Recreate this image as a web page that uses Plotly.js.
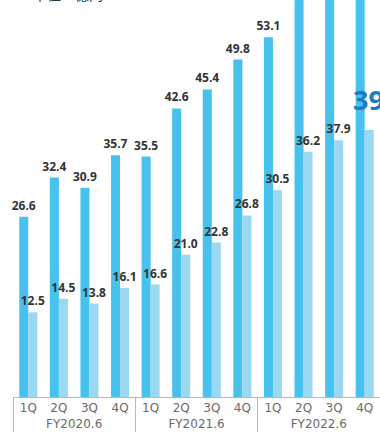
<!DOCTYPE html>
<html>
<head>
<meta charset="utf-8">
<script src="https://cdn.plot.ly/plotly-3.0.1.min.js"></script>
<style>html,body{margin:0;padding:0;background:#fff;}#chart{width:380px;height:432px;}</style>
</head>
<body>
<div id="chart"></div>
<script>
const fiscalYears = ['FY2020.6', 'FY2021.6', 'FY2022.6'];
const quarters = ['1Q', '2Q', '3Q', '4Q'];
const seriesDark = [26.6, 32.4, 30.9, 35.7, 35.5, 42.6, 45.4, 49.8, 53.1, 61.5, 64.2, 66.8];
const seriesLight = [12.5, 14.5, 13.8, 16.1, 16.6, 21.0, 22.8, 26.8, 30.5, 36.2, 37.9, 39.4];
const unitLabel = '単位：億円';

const yMax = 58.6;
const xGroups = [], xQuarters = [];
fiscalYears.forEach(fy => quarters.forEach(q => { xGroups.push(fy); xQuarters.push(q); }));
const lastIdx = seriesLight.length - 1;

const labelFont = {family: 'Open Sans', size: 12, color: '#333333', weight: 700};

const traceDark = {
  type: 'bar', x: [xGroups, xQuarters], y: seriesDark,
  marker: {color: '#47C2EE'},
  text: seriesDark.map(v => v < yMax - 3 ? v.toFixed(1) : ''), textposition: 'outside',
  textfont: labelFont, constraintext: 'none', cliponaxis: false, hoverinfo: 'none'
};
const traceLight = {
  type: 'bar', x: [xGroups, xQuarters], y: seriesLight,
  marker: {color: '#9BD8F2'},
  text: seriesLight.map((v, i) => i === lastIdx ? '' : v.toFixed(1)), textposition: 'outside',
  textfont: labelFont, constraintext: 'none', cliponaxis: false, hoverinfo: 'none'
};

const layout = {
  width: 380, height: 432,
  margin: {l: 13, r: 0, t: 0, b: 35},
  paper_bgcolor: '#ffffff', plot_bgcolor: '#ffffff',
  barmode: 'group', bargap: 0.41, bargroupgap: 0,
  showlegend: false,
  xaxis: {
    type: 'multicategory', range: [-0.5, 11.5], autorange: false,
    showline: true, linecolor: '#b8b8b8', linewidth: 1,
    showdividers: true, dividercolor: '#b8b8b8', dividerwidth: 1,
    tickfont: {family: 'DejaVu Sans', size: 12, color: '#6a6a6a'},
    ticks: '', showgrid: false, zeroline: false
  },
  yaxis: {range: [0, yMax], autorange: false, visible: false, showgrid: false, zeroline: false},
  annotations: [
    {x: lastIdx, y: seriesLight[lastIdx], xref: 'x', yref: 'y',
     text: seriesLight[lastIdx].toFixed(1), showarrow: false,
     xanchor: 'left', yanchor: 'bottom', xshift: -14, yshift: 10,
     font: {family: 'Open Sans', size: 27, color: '#1F7BC1', weight: 700}},
    {x: 0, y: 1, xref: 'paper', yref: 'paper', text: unitLabel, showarrow: false,
     xanchor: 'left', yanchor: 'bottom', xshift: 18, yshift: -6,
     font: {family: 'Noto Sans CJK JP', size: 14, color: '#333333'}}
  ]
};

Plotly.newPlot('chart', [traceDark, traceLight], layout, {staticPlot: true, displayModeBar: false});
</script>
</body>
</html>
